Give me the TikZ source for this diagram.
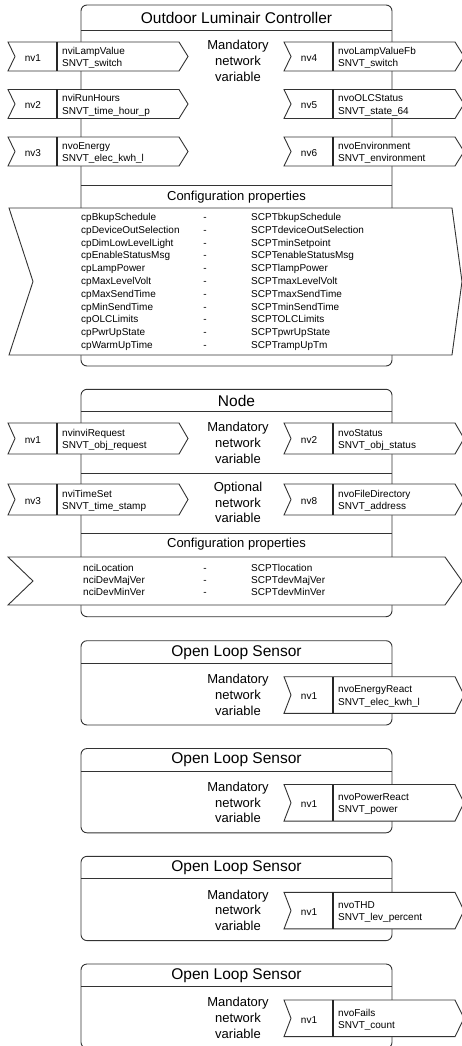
\documentclass[tikz,border=0pt]{standalone}
\usepackage{fontspec}
\setmainfont{Liberation Sans}
\tikzset{
  ln/.style={draw=black!80, line width=0.9pt},
  boxr/.style={ln, rounded corners=6pt},
  chev/.style={ln, fill=white},
  divl/.style={draw=black!85, line width=1.5pt},
  sm/.style={font=\fontsize{10}{12.3}\selectfont, inner sep=0pt},
  smr/.style={sm, text height=7pt, text depth=2pt},
  md/.style={font=\fontsize{13}{15.8}\selectfont, align=center, inner sep=0pt},
  ttl/.style={font=\fontsize{15.5}{18}\selectfont, inner sep=0pt},
}
\newcommand\nvchev[7]{%
  \path[chev] (#2,#3) -- ({#2+171},#3) -- ({#2+180},{(#3+#4)/2}) -- ({#2+171},#4) -- (#2,#4) -- ({#2+7},{(#3+#4)/2}) -- cycle;
  \draw[divl] ({#2+49},#3) -- ({#2+49},#4);
  \node[sm] (#1n) at ({#2+25},{(#3+#4)/2+1.5}) {#5};
  \node[sm, anchor=west, align=left] (#1t) at ({#2+54},{(#3+#4)/2+1.5}) {#6\\#7};
}
\newcommand\olsbox[4]{% #1 id, #2 top, #3 name, #4 type
  \draw[boxr] (81,#2) rectangle (392,{#2+84.3});
  \draw[ln] (81,{#2+22.6}) -- (392,{#2+22.6});
  \node[ttl] (#1title) at (236.5,{#2+11.5}) {Open Loop Sensor};
  \node[md] (#1mand) at (238,{#2+54}) {Mandatory\\network\\variable};
  \nvchev{#1a}{284}{#2+36}{#2+72.6}{nv1}{#3}{#4}
}
\begin{document}
\begin{tikzpicture}[x=1pt,y=-1pt]
\useasboundingbox (0,0) rectangle (462,1046);
% ---------- Outdoor Luminair Controller ----------
\draw[boxr] (81,5) rectangle (392,366);
\draw[ln] (81,30) -- (392,30);
\draw[ln] (81,185) -- (392,185);
\node[ttl] (olctitle) at (236.5,17.5) {Outdoor Luminair Controller};
\node[md] (olcmand) at (238,61) {Mandatory\\network\\variable};
\nvchev{la}{8}{42}{71}{nv1}{nviLampValue}{SNVT\_switch}
\nvchev{lb}{8}{89.5}{118.5}{nv2}{nviRunHours}{SNVT\_time\_hour\_p}
\nvchev{lc}{8}{137}{166}{nv3}{nvoEnergy}{SNVT\_elec\_kwh\_l}
\nvchev{ra}{284}{42}{71}{nv4}{nvoLampValueFb}{SNVT\_switch}
\nvchev{rb}{284}{89.5}{118.5}{nv5}{nvoOLCStatus}{SNVT\_state\_64}
\nvchev{rc}{284}{137}{166}{nv6}{nvoEnvironment}{SNVT\_environment}
\node[md] (olccfg) at (236.5,197) {Configuration properties};
\path[chev] (9,208) -- (452,208) -- (462,281.5) -- (452,355) -- (9,355) -- (33,281.5) -- cycle;
\foreach \a/\b [count=\i from 0] in {cpBkupSchedule/SCPTbkupSchedule,
  cpDeviceOutSelection/SCPTdeviceOutSelection, cpDimLowLevelLight/SCPTminSetpoint,
  cpEnableStatusMsg/SCPTenableStatusMsg, cpLampPower/SCPTlampPower,
  cpMaxLevelVolt/SCPTmaxLevelVolt, cpMaxSendTime/SCPTmaxSendTime,
  cpMinSendTime/SCPTminSendTime, cpOLCLimits/SCPTOLCLimits,
  cpPwrUpState/SCPTpwrUpState, cpWarmUpTime/SCPTrampUpTm}{
  \node[smr, anchor=west] (cpl\i) at (81,{218+12.8*\i}) {\a};
  \node[smr] (cpd\i) at (205,{218+12.8*\i}) {-};
  \node[smr, anchor=west] (cpr\i) at (251,{218+12.8*\i}) {\b};
}
% ---------- Node ----------
\draw[boxr] (81,389.3) rectangle (392,616.7);
\draw[ln] (81,411.7) -- (392,411.7);
\draw[ln] (81,473.3) -- (392,473.3);
\draw[ln] (81,533.3) -- (392,533.3);
\node[ttl] (nodetitle) at (236.5,401) {Node};
\node[md] (nodemand) at (238,443) {Mandatory\\network\\variable};
\node[md] (nodeopt) at (238,502.5) {Optional\\network\\variable};
\nvchev{na}{8}{423}{454}{nv1}{nvinviRequest}{SNVT\_obj\_request}
\nvchev{nb}{8}{484}{515}{nv3}{nviTimeSet}{SNVT\_time\_stamp}
\nvchev{nc}{284}{423}{454}{nv2}{nvoStatus}{SNVT\_obj\_status}
\nvchev{nd}{284}{484}{515}{nv8}{nvoFileDirectory}{SNVT\_address}
\node[md] (nodecfg) at (236.5,544.5) {Configuration properties};
\path[chev] (8,557) -- (445,557) -- (462,581) -- (445,605) -- (8,605) -- (33,581) -- cycle;
\foreach \a/\b [count=\i from 0] in {nciLocation/SCPTlocation,
  nciDevMajVer/SCPTdevMajVer, nciDevMinVer/SCPTdevMinVer}{
  \node[smr, anchor=west] (ncl\i) at (83,{569+12*\i}) {\a};
  \node[smr] (ncd\i) at (205,{569+12*\i}) {-};
  \node[smr, anchor=west] (ncr\i) at (251,{569+12*\i}) {\b};
}
% ---------- Open Loop Sensors ----------
\olsbox{sa}{640.7}{nvoEnergyReact}{SNVT\_elec\_kwh\_l}
\olsbox{sb}{748.5}{nvoPowerReact}{SNVT\_power}
\olsbox{sc}{856.3}{nvoTHD}{SNVT\_lev\_percent}
\olsbox{sd}{964}{nvoFails}{SNVT\_count}
\end{tikzpicture}
\end{document}
